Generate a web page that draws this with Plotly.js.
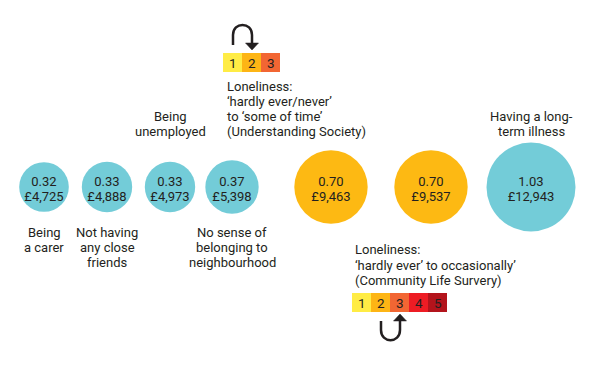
<!DOCTYPE html>
<html>
<head>
<meta charset="utf-8">
<script src="https://cdn.plot.ly/plotly-3.0.1.min.js"></script>
<style>html,body{margin:0;padding:0;background:#fff;}#chart{width:600px;height:377px;}</style>
</head>
<body>
<div id="chart"></div>
<script>
// ---- data ----
const categories = ['Being a carer', 'Not having any close friends', 'Being unemployed',
  'No sense of belonging to neighbourhood', 'Loneliness (Understanding Society)',
  'Loneliness (Community Life Survey)', 'Having a long-term illness'];
const ratios = [0.32, 0.33, 0.33, 0.37, 0.70, 0.70, 1.03];
const costs = ['£4,725', '£4,888', '£4,973', '£5,398', '£9,463', '£9,537', '£12,943'];
const kinds = ['factor', 'factor', 'factor', 'factor', 'loneliness', 'loneliness', 'factor'];
const labels = [['Being', 'a carer'], ['Not having', 'any close', 'friends'], ['Being', 'unemployed'],
  ['No sense of', 'belonging to', 'neighbourhood'], [], [], ['Having a long-', 'term illness']];
const scaleTopLabels = ['1', '2', '3'];
const scaleBottomLabels = ['1', '2', '3', '4', '5'];
const legendTopLines = ['Loneliness:', '‘hardly ever/never’', 'to ‘some of time’', '(Understanding Society)'];
const legendBottomLines = ['Loneliness:', '‘hardly ever’ to occasionally’', '(Community Life Survery)'];

// ---- layout constants ----
const xPos = [44, 107, 170, 232, 331, 431, 531];
const yCenter = 187;
const labelPos = ['below', 'below', 'above', 'below', '', '', 'above'];
const kindColor = {factor: '#73CCD8', loneliness: '#FDB913'};
const scaleColors = ['#FFEC45', '#FDB515', '#F26633', '#ED1C24', '#B3141C'];
const textColor = '#231F20';
const FONT = 'Roboto, "Open Sans", sans-serif';
const LINE = 15;

const traces = [
  {
    x: xPos, y: xPos.map(() => yCenter), type: 'scatter', mode: 'markers',
    marker: {size: ratios, sizemode: 'area', sizeref: 0.00026, color: kinds.map(k => kindColor[k]), line: {width: 0}, opacity: 1},
    hoverinfo: 'text', text: categories, showlegend: false
  },
  {
    x: xPos, y: xPos.map(() => yCenter - 4.5), type: 'scatter', mode: 'text',
    text: ratios.map(r => r.toFixed(2)), textfont: {family: FONT, size: 13, color: textColor},
    textposition: 'middle center', hoverinfo: 'skip', showlegend: false
  },
  {
    x: xPos, y: xPos.map(() => yCenter + 10.5), type: 'scatter', mode: 'text',
    text: costs, textfont: {family: FONT, size: 13, color: textColor},
    textposition: 'middle center', hoverinfo: 'skip', showlegend: false
  }
];

const annotations = [];
const shapes = [];
function addLines(lines, x, yFirst, step, anchor) {
  lines.forEach((t, j) => {
    annotations.push({
      x: x, y: yFirst + j * step, xref: 'x', yref: 'y', text: t, showarrow: false,
      xanchor: anchor, yanchor: 'middle', align: anchor === 'left' ? 'left' : 'center',
      font: {family: FONT, size: 13, color: textColor}
    });
  });
}
labels.forEach((lines, i) => {
  if (!lines.length) return;
  if (labelPos[i] === 'below') addLines(lines, xPos[i], 232, LINE, 'center');
  else addLines(lines, xPos[i], 131 - (lines.length - 1) * LINE, LINE, 'center');
});

// scale boxes
const boxW = 19;
scaleTopLabels.forEach((l, i) => {
  const x0 = 223 + i * boxW;
  shapes.push({type: 'rect', xref: 'x', yref: 'y', x0: x0, x1: x0 + boxW, y0: 53, y1: 72, fillcolor: scaleColors[i], line: {width: 0}, layer: 'below'});
  annotations.push({x: x0 + boxW / 2, y: 63, xref: 'x', yref: 'y', text: l, showarrow: false,
    font: {family: FONT, size: 13.5, color: textColor}, xanchor: 'center', yanchor: 'middle'});
});
scaleBottomLabels.forEach((l, i) => {
  const x0 = 352 + i * boxW;
  shapes.push({type: 'rect', xref: 'x', yref: 'y', x0: x0, x1: x0 + boxW, y0: 293, y1: 312, fillcolor: scaleColors[i], line: {width: 0}, layer: 'below'});
  annotations.push({x: x0 + boxW / 2, y: 303, xref: 'x', yref: 'y', text: l, showarrow: false,
    font: {family: FONT, size: 13.5, color: textColor}, xanchor: 'center', yanchor: 'middle'});
});

// curved arrows
shapes.push({type: 'path', xref: 'x', yref: 'y', path: 'M 233 45 L 233 35 C 233 21.5, 252 21.5, 252 35 L 252 44', line: {color: textColor, width: 2.5}});
shapes.push({type: 'path', xref: 'x', yref: 'y', path: 'M 245.5 43 L 258.5 43 L 252 50 Z', fillcolor: textColor, line: {color: textColor, width: 0.5}});
shapes.push({type: 'path', xref: 'x', yref: 'y', path: 'M 381 321 L 381 330 C 381 343.5, 400 343.5, 400 330 L 400 320', line: {color: textColor, width: 2.5}});
shapes.push({type: 'path', xref: 'x', yref: 'y', path: 'M 393.5 321 L 406.5 321 L 400 314 Z', fillcolor: textColor, line: {color: textColor, width: 0.5}});

// legend texts
addLines(legendTopLines, 225, 86, 15, 'left');
addLines(legendBottomLines, 353, 249.5, 15.5, 'left');

const layout = {
  width: 600, height: 377,
  margin: {l: 0, r: 0, t: 0, b: 0, pad: 0},
  paper_bgcolor: '#ffffff', plot_bgcolor: '#ffffff',
  xaxis: {range: [0, 600], visible: false, fixedrange: true},
  yaxis: {range: [377, 0], visible: false, fixedrange: true},
  showlegend: false,
  shapes: shapes,
  annotations: annotations
};

Plotly.newPlot('chart', traces, layout, {displayModeBar: false, staticPlot: true});
</script>
</body>
</html>
